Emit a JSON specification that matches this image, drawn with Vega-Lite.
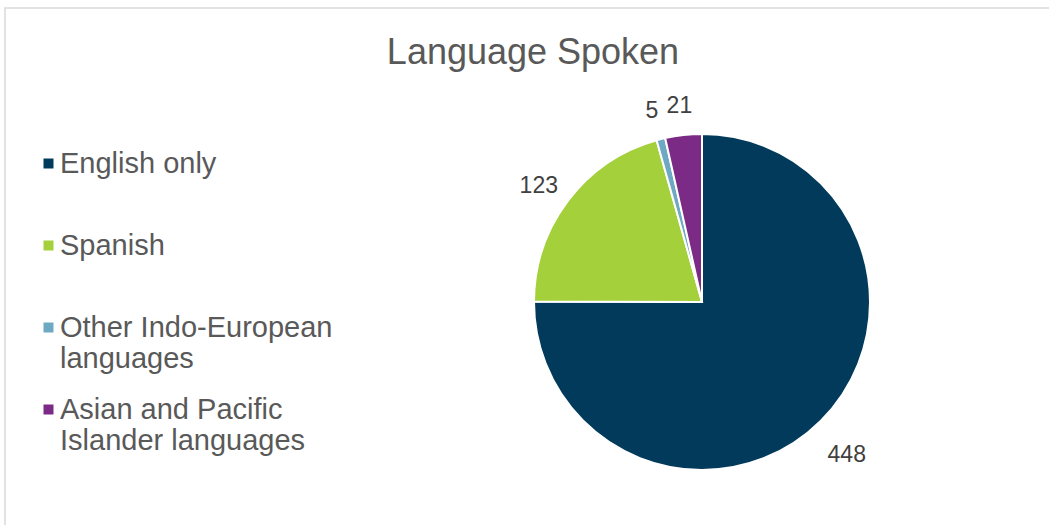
{
  "$schema": "https://vega.github.io/schema/vega-lite/v6.json",
  "width": 1394,
  "height": 588,
  "autosize": {"type": "none"},
  "padding": {"left": 5, "top": 8, "right": -350, "bottom": -71},
  "background": "white",
  "view": {"stroke": "#d9d9d9", "strokeWidth": 1.5, "fill": null},
  "title": {
    "text": "Language Spoken",
    "font": "Liberation Sans",
    "fontSize": 36,
    "fontWeight": "normal",
    "color": "#595959",
    "anchor": "middle",
    "baseline": "alphabetic",
    "dx": -169,
    "dy": 37,
    "offset": -55
  },
  "data": {
    "values": [
      {"language": "English only", "count": 448, "rank": 1},
      {"language": "Spanish", "count": 123, "rank": 2},
      {"language": "Other Indo-European languages", "count": 5, "rank": 3},
      {"language": "Asian and Pacific Islander languages", "count": 21, "rank": 4}
    ]
  },
  "encoding": {
    "theta": {"field": "count", "type": "quantitative", "stack": true},
    "order": {"field": "rank", "type": "quantitative"},
    "color": {
      "field": "language",
      "type": "nominal",
      "sort": ["English only", "Spanish", "Other Indo-European languages", "Asian and Pacific Islander languages"],
      "scale": {
        "domain": ["English only", "Spanish", "Other Indo-European languages", "Asian and Pacific Islander languages"],
        "range": ["#013a5b", "#a4d03b", "#6ea8c3", "#7b2a85"]
      },
      "legend": {
        "title": null,
        "orient": "none",
        "legendX": 29,
        "legendY": 141,
        "symbolType": "square",
        "symbolSize": 100,
        "symbolStrokeWidth": 0,
        "labelFont": "Liberation Sans",
        "labelFontSize": 29,
        "labelColor": "#595959",
        "labelLimit": 400,
        "labelOffset": -3,
        "labelBaseline": "middle",
        "rowPadding": 21,
        "labelExpr": "datum.label == 'Other Indo-European languages' ? ['Other Indo-European', 'languages'] : datum.label == 'Asian and Pacific Islander languages' ? ['Asian and Pacific', 'Islander languages'] : [datum.label, ' ']"
      }
    }
  },
  "layer": [
    {
      "mark": {"type": "arc", "outerRadius": 168, "stroke": "white", "strokeWidth": 2}
    },
    {
      "mark": {"type": "text", "radius": 205, "dy": 8, "font": "Liberation Sans", "fontSize": 23},
      "encoding": {
        "text": {"field": "count", "type": "quantitative"},
        "color": {"value": "#404040"}
      }
    }
  ]
}
